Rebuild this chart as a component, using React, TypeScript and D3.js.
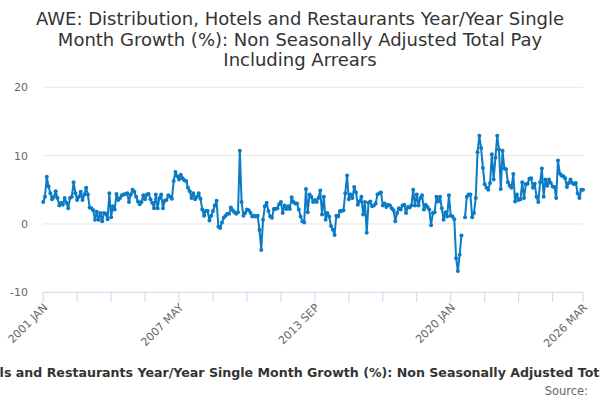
import React, { useEffect, useRef } from "react";
import * as d3 from "d3";

// Monthly values, 2001 JAN .. 2026 MAR (303 months)
const growth2001to2013: (number | null)[] = [
  3.2, 4.0, 6.9, 5.5, 4.5, 3.6, 4.0, 4.8, 3.8, 2.7,
  3.1, 2.8, 3.8, 3.1, 2.3, 3.8, 4.0, 6.1, 4.5, 3.5,
  4.0, 4.7, 3.5, 4.3, 5.3, 4.3, 2.4, 2.3, 2.0, 0.6,
  1.8, 0.6, 1.6, 0.4, 1.6, 1.5, 0.7, 4.5, 1.0, 2.6,
  2.1, 4.4, 3.5, 3.8, 4.2, 4.3, 4.4, 4.5, 3.2, 4.3,
  5.0, 4.7, 4.0, 3.3, 2.9, 3.2, 4.2, 3.6, 4.3, 4.4,
  3.6, 3.1, 2.3, 4.3, 2.3, 3.8, 4.3, 2.3, 3.4, 3.5,
  4.2, 4.0, 3.7, 6.3, 7.6, 7.0, 6.5, 7.2, 6.7, 6.4,
  6.3, 5.3, 4.8, 3.8, 4.5, 3.6, 4.0, 4.5, 3.7, 2.1,
  1.2, 1.9, 1.9, 0.5, 1.2, 1.9, 2.7, 3.4, -0.4, -0.6,
  0.2, 0.9, 1.2, 1.5, 1.5, 2.4, 2.0, 1.7, 1.5, 1.7,
  10.7, 3.2, 1.2, 1.6, 2.1, 2.0, 1.6, 1.1, 1.2, 1.1,
  1.2, -0.9, -3.8, 0.6, 2.6, 3.1, 1.9, 1.1, 0.9, 2.2,
  2.2, 2.3, 2.9, 3.2, 1.6, 2.7, 2.2, 2.6, 2.2, 3.9,
  3.2, 3.0, 3.0, 2.1, 1.1,
];

const growth2013to2020: (number | null)[] = [
  0.4, 0.2, 5.1, 1.7, 4.3, 4.0, 3.2, 3.5, 3.2, 3.8,
  4.9, 1.4, 4.0, 0.6, 1.6, 1.1, -0.3, -0.8, -1.6, 1.2,
  1.1, 1.9, 1.9, 2.0, 4.5, 7.1, 3.6, 4.3, 3.8, 5.4,
  4.6, 2.8, 3.3, 4.0, 1.4, 3.2, -1.3, 3.1, 3.3, 2.6,
  2.7, 3.0, 4.3, 4.5, 4.6, 2.7, 3.0, 2.5, 2.8, 2.7,
  2.3, 2.0, 0.4, 1.6, 2.3, 2.1, 2.7, 2.8, 1.6, 2.5,
  2.4, 2.7, 5.0, 2.7, 4.3, 2.7, 3.8, 4.2, 2.1, 2.8,
  2.5, 2.1, -0.2, 1.6, 1.7, 4.0, 3.3, 4.0, 2.3, 0.6,
  1.7, 1.1, 4.2, 1.2, 1.1, 0.7, -5.0, -6.9, -4.5, -1.7,
];

const growth2020to2026: (number | null)[] = [
  null, 1.0, 4.0, 4.3, 4.3, 1.0, 1.6, 3.8, 10.5, 12.9,
  11.1, 8.2, 5.8, 5.3, 5.0, 6.0, 10.2, 6.5, 9.7, 12.9,
  10.9, 5.1, 10.7, 8.1, 8.0, 6.1, 5.6, 5.3, 7.3, 3.3,
  4.3, 3.5, 3.6, 6.1, 3.8, 5.8, 5.9, 6.6, 6.7, 5.3,
  5.9, 4.0, 3.2, 6.1, 8.1, 4.0, 6.5, 5.6, 6.5, 6.0,
  5.5, 5.4, 3.8, 9.3, 7.4, 7.1, 7.0, 6.7, 5.4, 6.0,
  6.5, 6.0, 5.8, 6.0, 4.5, 3.8, 5.0, 5.0,
];

const monthNames = ["JAN", "FEB", "MAR", "APR", "MAY", "JUN", "JUL", "AUG", "SEP", "OCT", "NOV", "DEC"];
const values = [...growth2001to2013, ...growth2013to2020, ...growth2020to2026];
const categories = values.map((_, i) => `${2001 + Math.floor(i / 12)} ${monthNames[i % 12]}`);
const tickLabels = ["2001 JAN", "2007 MAY", "2013 SEP", "2020 JAN", "2026 MAR"];
const yTicks = [-10, 0, 10, 20];

const titleLines = [
  "AWE: Distribution, Hotels and Restaurants Year/Year Single",
  "Month Growth (%): Non Seasonally Adjusted Total Pay",
  "Including Arrears",
];
const seriesName =
  "AWE: Distribution, Hotels and Restaurants Year/Year Single Month Growth (%): Non Seasonally Adjusted Total Pay Including Arrears";

const App: React.FC = () => {
  const svgRef = useRef<SVGSVGElement | null>(null);

  useEffect(() => {
    if (!svgRef.current) return;
    const width = 600;
    const height = 400;
    const font = "'DejaVu Sans', Verdana, sans-serif";
    const lineColor = "#0a7bc4";

    const x = d3.scaleLinear().domain([0, values.length - 1]).range([43.2, 583]);
    const y = d3.scaleLinear().domain([-10, 20]).range([292.3, 87.3]);

    const svg = d3
      .select(svgRef.current)
      .attr("width", width)
      .attr("height", height)
      .attr("viewBox", [0, 0, width, height])
      .style("font-family", font);

    svg.append("rect").attr("width", width).attr("height", height).attr("fill", "#fff");

    // Title
    svg
      .append("g")
      .selectAll("text")
      .data(titleLines)
      .join("text")
      .attr("x", 300)
      .attr("y", (_, i) => 25 + i * 20.7)
      .attr("text-anchor", "middle")
      .attr("font-size", 18)
      .attr("fill", "#333333")
      .text((d) => d);

    // Grid lines
    svg
      .append("g")
      .selectAll("line")
      .data(yTicks.filter((d) => d !== -10))
      .join("line")
      .attr("x1", x(0))
      .attr("x2", x(values.length - 1))
      .attr("y1", (d) => y(d))
      .attr("y2", (d) => y(d))
      .attr("stroke", "#e6e6e6");

    // Y labels
    svg
      .append("g")
      .selectAll("text")
      .data(yTicks)
      .join("text")
      .attr("x", 28)
      .attr("y", (d) => y(d) + 4)
      .attr("text-anchor", "end")
      .attr("font-size", 11)
      .attr("fill", "#666666")
      .text((d) => d);

    // X axis
    const tickIdx = d3.range(0, values.length, 19).concat([values.length - 1]);
    const gx = svg.append("g");
    gx.append("line")
      .attr("x1", x(0))
      .attr("x2", x(values.length - 1))
      .attr("y1", y(-10))
      .attr("y2", y(-10))
      .attr("stroke", "#ccd6eb");
    gx.selectAll("line.tick")
      .data(tickIdx)
      .join("line")
      .attr("class", "tick")
      .attr("x1", (d) => x(d))
      .attr("x2", (d) => x(d))
      .attr("y1", y(-10))
      .attr("y2", y(-10) + 10)
      .attr("stroke", "#ccd6eb");
    gx.selectAll("text")
      .data(tickLabels)
      .join("text")
      .attr("transform", (d) => `translate(${x(categories.indexOf(d)) + 5},${y(-10) + 16}) rotate(-45)`)
      .attr("text-anchor", "end")
      .attr("font-size", 11)
      .attr("fill", "#666666")
      .text((d) => d);

    // Series
    const line = d3
      .line<number | null>()
      .defined((d) => d !== null)
      .x((_, i) => x(i))
      .y((d) => y(d as number));
    svg
      .append("path")
      .datum(values)
      .attr("fill", "none")
      .attr("stroke", lineColor)
      .attr("stroke-width", 2)
      .attr("stroke-linejoin", "round")
      .attr("d", line);
    svg
      .append("g")
      .selectAll("circle")
      .data(values.map((v, i) => ({ v, i })).filter((d) => d.v !== null))
      .join("circle")
      .attr("cx", (d) => x(d.i))
      .attr("cy", (d) => y(d.v as number))
      .attr("r", 2)
      .attr("fill", lineColor);

    // Legend (wider than the chart, clipped at both edges as in the source)
    svg
      .append("text")
      .attr("x", 300)
      .attr("y", 377)
      .attr("text-anchor", "middle")
      .attr("font-size", 12.6)
      .attr("font-weight", "bold")
      .attr("fill", "#333333")
      .text(seriesName);

    svg
      .append("text")
      .attr("x", 588)
      .attr("y", 395)
      .attr("text-anchor", "end")
      .attr("font-size", 11.5)
      .attr("fill", "#666666")
      .text("Source:");

    return () => {
      svg.selectAll("*").remove();
    };
  }, []);

  return <svg ref={svgRef} style={{ position: "absolute", left: 0, top: 0 }}></svg>;
};

export default App;
